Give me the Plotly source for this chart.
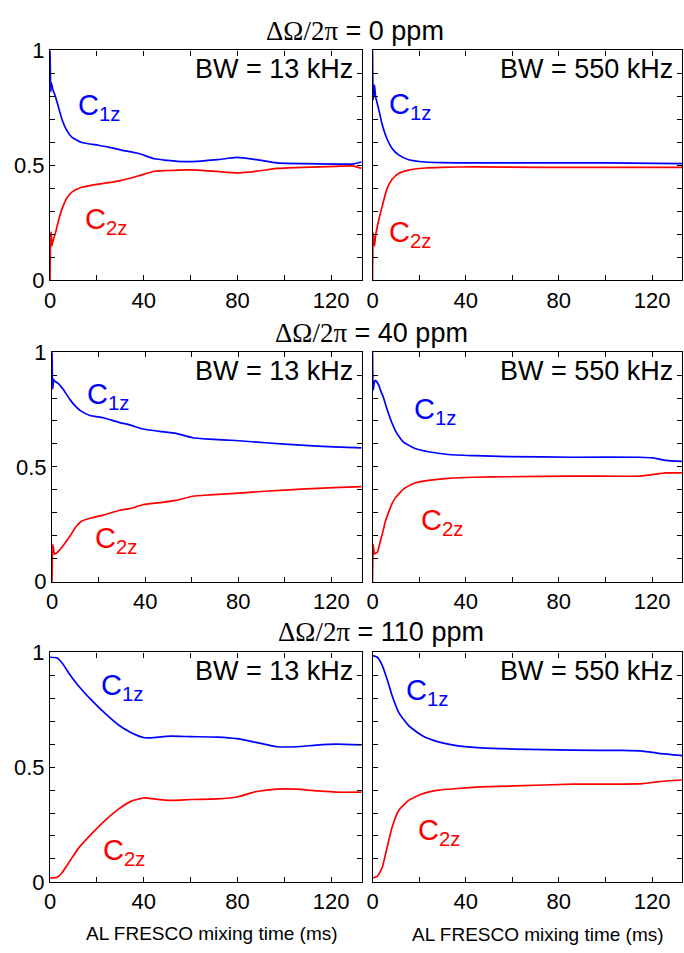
import plotly.graph_objects as go

# ---- mixing-time curves (ms) and normalized magnetization ----
# 0 ppm, BW = 13 kHz
t_0_13 = [0, 0.3, 0.5, 0.8, 1.2, 2.3, 3.7, 5.1, 7, 9.3, 13.5, 20.6, 25, 30.5, 37.5, 44.6, 50, 54.4,
          62.9, 71.4, 79.8, 88.3, 96.8, 108, 122, 129, 133]
c1_0_13 = [1.0, 0.82, 0.86, 0.85, 0.83, 0.80, 0.75, 0.70, 0.655, 0.623, 0.60, 0.588, 0.58, 0.567, 0.553,
           0.529, 0.522, 0.518, 0.518, 0.525, 0.535, 0.525, 0.511, 0.508, 0.506, 0.506, 0.515]
c2_0_13 = [0.0, 0.20, 0.21, 0.15, 0.17, 0.207, 0.264, 0.31, 0.355, 0.384, 0.405, 0.419, 0.425, 0.435, 0.454,
           0.475, 0.478, 0.48, 0.48, 0.474, 0.468, 0.475, 0.487, 0.492, 0.496, 0.498, 0.487]

# 0 ppm, BW = 550 kHz
t_0_550 = [0, 0.3, 0.85, 1.3, 2.7, 4.1, 6.2, 8.4, 11.2, 15.5, 22.6, 29.6, 43.8, 72, 100, 133]
c1_0_550 = [1.0, 0.786, 0.849, 0.80, 0.743, 0.68, 0.616, 0.574, 0.546, 0.525, 0.515, 0.512, 0.511,
            0.511, 0.511, 0.508]
c2_0_550 = [0.0, 0.207, 0.15, 0.193, 0.264, 0.32, 0.398, 0.44, 0.465, 0.48, 0.489, 0.492, 0.494,
            0.492, 0.492, 0.492]

# 40 ppm, BW = 13 kHz
t_40_13 = [0, 0.3, 0.7, 1.0, 2.5, 5, 7.8, 10, 12.5, 16.3, 22, 29.1, 33.4, 39, 46.2, 53.3, 60.4, 67.5,
           78.8, 93, 107, 121, 133]
c1_40_13 = [1.0, 0.84, 0.881, 0.875, 0.865, 0.835, 0.792, 0.765, 0.743, 0.724, 0.714, 0.693, 0.683,
            0.665, 0.655, 0.646, 0.627, 0.621, 0.615, 0.604, 0.595, 0.587, 0.583]
c2_40_13 = [0.0, 0.163, 0.14, 0.12, 0.13, 0.16, 0.2, 0.235, 0.262, 0.276, 0.29, 0.311, 0.318, 0.335,
            0.344, 0.354, 0.372, 0.378, 0.385, 0.395, 0.403, 0.41, 0.414]

# 40 ppm, BW = 550 kHz
t_40_550 = [0, 0.3, 0.8, 1.3, 2.0, 2.7, 3.4, 4.8, 5.5, 7, 8.4, 9.8, 11.9, 13.3, 16.9, 18.3, 24, 32.5,
            43.8, 58, 86.4, 115, 120.4, 126, 133]
c1_40_550 = [1.0, 0.835, 0.87, 0.877, 0.868, 0.856, 0.835, 0.799, 0.775, 0.728, 0.69, 0.658, 0.625,
             0.608, 0.587, 0.58, 0.566, 0.554, 0.549, 0.545, 0.542, 0.542, 0.539, 0.528, 0.524]
c2_40_550 = [0.0, 0.163, 0.12, 0.125, 0.127, 0.15, 0.177, 0.232, 0.262, 0.305, 0.34, 0.365, 0.389,
             0.403, 0.424, 0.43, 0.441, 0.45, 0.455, 0.457, 0.46, 0.46, 0.467, 0.474, 0.474]

# 110 ppm, BW = 13 kHz
t_110_13 = [0, 3, 5.1, 7.9, 12.1, 17.8, 23.4, 29.1, 34.7, 40.3, 43.2, 51.6, 60, 71.4, 79.8, 88.3,
            96.8, 105, 113.7, 122, 133]
c1_110_13 = [0.979, 0.976, 0.955, 0.912, 0.855, 0.791, 0.735, 0.685, 0.65, 0.628, 0.628, 0.635, 0.633,
             0.631, 0.624, 0.607, 0.589, 0.589, 0.596, 0.6, 0.597]
c2_110_13 = [0.017, 0.02, 0.04, 0.082, 0.146, 0.21, 0.267, 0.316, 0.352, 0.366, 0.363, 0.355, 0.359,
             0.362, 0.37, 0.394, 0.404, 0.404, 0.397, 0.391, 0.391]

# 110 ppm, BW = 550 kHz
t_110_550 = [0, 2.1, 4.2, 6.4, 8.5, 11.3, 15.5, 21.2, 28.3, 36.7, 46.6, 60.8, 86.2, 107.4, 116, 123, 133]
c1_110_550 = [0.986, 0.979, 0.943, 0.879, 0.809, 0.738, 0.681, 0.638, 0.61, 0.593, 0.584, 0.579,
              0.574, 0.573, 0.57, 0.56, 0.55]
c2_110_550 = [0.017, 0.024, 0.064, 0.156, 0.241, 0.312, 0.355, 0.383, 0.4, 0.407, 0.414, 0.418,
              0.426, 0.426, 0.428, 0.437, 0.444]

# ---- labels and ticks ----
offset_titles = ["0 ppm", "40 ppm", "110 ppm"]
bandwidths = ["BW = 13 kHz", "BW = 550 kHz"]
x_tickvals = [0, 20, 40, 60, 80, 100, 120]
x_ticktext = ["0", "", "40", "", "80", "", "120"]
y_tickvals = [0, 0.1, 0.2, 0.3, 0.4, 0.5, 0.6, 0.7, 0.8, 0.9, 1.0]
y_ticktext = ["0", "", "", "", "", "0.5", "", "", "", "", "1"]
x_title = "AL FRESCO mixing time (ms)"

panels = [
    (t_0_13, c1_0_13, c2_0_13), (t_0_550, c1_0_550, c2_0_550),
    (t_40_13, c1_40_13, c2_40_13), (t_40_550, c1_40_550, c2_40_550),
    (t_110_13, c1_110_13, c2_110_13), (t_110_550, c1_110_550, c2_110_550),
]
# label anchor points (ms, value) for C1z and C2z in each panel
c1_pos = [(20.9, 0.755), (16.0, 0.76), (24.1, 0.81), (27.0, 0.745), (30.7, 0.85), (23.5, 0.826)]
c2_pos = [(24.0, 0.26), (16.0, 0.203), (27.3, 0.18), (30.0, 0.258), (31.5, 0.132), (28.4, 0.216)]

W, H = 684, 953
BLUE = "rgb(0,0,255)"
RED = "rgb(255,0,0)"
SANS = "Liberation Sans, Arial, sans-serif"

# panel boxes in pixels: (left, right) per column, (top, bottom) per row
col_x = [(44.5, 359.3), (370.3, 683.3)]
row_y = [(39.5, 275.7), (349.3, 585.0), (657.7, 893.3)]

fig = go.Figure()
layout = dict(
    width=W, height=H,
    margin=dict(l=0, r=0, t=0, b=0),
    paper_bgcolor="white", plot_bgcolor="white",
    showlegend=False,
    font=dict(family=SANS, size=22, color="black"),
)
annotations = []

for i, (t, c1, c2) in enumerate(panels):
    r, c = divmod(i, 2)
    n = i + 1
    xa = "x" if n == 1 else f"x{n}"
    ya = "y" if n == 1 else f"y{n}"
    fig.add_trace(go.Scatter(x=t, y=c1, mode="lines", xaxis=xa, yaxis=ya,
                             line=dict(color=BLUE, width=1.7, shape="spline", smoothing=0.5)))
    fig.add_trace(go.Scatter(x=t, y=c2, mode="lines", xaxis=xa, yaxis=ya,
                             line=dict(color=RED, width=1.7, shape="spline", smoothing=0.5)))
    x0, x1 = col_x[c]
    if r == 1 and c == 0:
        x0 = 46.5
    y0, y1 = row_y[r]
    common = dict(showline=True, mirror="ticks", linecolor="black", linewidth=1.2,
                  ticks="inside", ticklen=5, tickwidth=1, tickcolor="black",
                  showgrid=False, zeroline=False, fixedrange=True,
                  tickfont=dict(family=SANS, size=22, color="black"))
    layout[f"xaxis{n if n > 1 else ''}"] = dict(
        domain=[x0 / W, x1 / W], anchor=ya, range=[0, 133],
        tickmode="array", tickvals=x_tickvals, ticktext=x_ticktext, **common)
    layout[f"yaxis{n if n > 1 else ''}"] = dict(
        domain=[1 - y1 / H, 1 - y0 / H], anchor=xa, range=[0, 1],
        tickmode="array", tickvals=y_tickvals, ticktext=y_ticktext,
        showticklabels=(c == 0), **common)

    annotations.append(dict(
        text=bandwidths[c], xref=f"{xa} domain", yref=f"{ya} domain", x=1, y=1,
        xanchor="right", yanchor="top", xshift=-7, yshift=-2, showarrow=False,
        font=dict(family=SANS, size=27, color="black")))
    annotations.append(dict(
        text="C<sub>1z</sub>", xref=xa, yref=ya, x=c1_pos[i][0], y=c1_pos[i][1],
        xanchor="center", yanchor="middle", showarrow=False,
        font=dict(family=SANS, size=29, color=BLUE)))
    annotations.append(dict(
        text="C<sub>2z</sub>", xref=xa, yref=ya, x=c2_pos[i][0], y=c2_pos[i][1],
        xanchor="center", yanchor="middle", showarrow=False,
        font=dict(family=SANS, size=29, color=RED)))

# row titles: frequency offset
title_x = [261, 270, 273]
title_y = [20, 330, 637]
for r in range(3):
    annotations.append(dict(
        text=f'<span style="font-family:Liberation Serif">\u0394\u03a9/2\u03c0</span> = {offset_titles[r]}',
        xref="paper", yref="paper", x=title_x[r] / W, y=1 - title_y[r] / H,
        xanchor="left", yanchor="middle", showarrow=False,
        font=dict(family=SANS, size=27, color="black")))

# x-axis titles under the bottom row
for cx, cy in [(208, 946), (537, 947)]:
    annotations.append(dict(
        text=x_title, xref="paper", yref="paper", x=cx / W, y=1 - cy / H,
        xanchor="center", yanchor="middle", showarrow=False,
        font=dict(family=SANS, size=19, color="black")))

layout["annotations"] = annotations
fig.update_layout(**layout)
fig.write_html("out.html")
